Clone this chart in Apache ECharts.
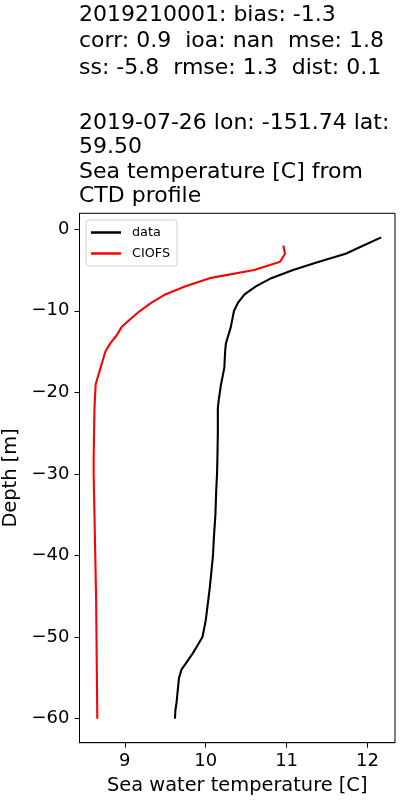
<!DOCTYPE html>
<html>
<head>
<meta charset="utf-8">
<script src="https://cdn.jsdelivr.net/npm/echarts@6/dist/echarts.min.js"></script>
<style>
html,body{margin:0;padding:0;background:#fff;}
#chart{width:400px;height:800px;}
</style>
</head>
<body>
<div id="chart"></div>
<script>
// Observed CTD profile ("data"): depth [m] and temperature [C]
const dataDepth = [-1,-2,-3,-4,-5,-6,-7,-8,-9,-10,-11,-12,-13,-14,-15,-16,-17,-18,-19,-20,-21,-22,-25,-28,-30,-32,-35,-38,-40,-42,-44,-46,-48,-50,-51,-52,-53,-54,-55,-56,-57,-58,-59,-60];
const dataTemp  = [12.17,11.95,11.73,11.40,11.08,10.81,10.62,10.48,10.40,10.35,10.33,10.31,10.28,10.25,10.24,10.235,10.23,10.21,10.19,10.175,10.16,10.15,10.15,10.145,10.14,10.13,10.12,10.10,10.09,10.07,10.05,10.025,10.00,9.96,9.90,9.84,9.77,9.70,9.67,9.66,9.65,9.64,9.625,9.62];
// Model profile ("CIOFS")
const modelDepth = [-2,-3,-4,-5,-6,-7,-8,-9,-10,-11,-12,-13,-14,-15,-16,-17,-18,-19,-20,-22,-25,-28,-30,-35,-40,-45,-50,-55,-60];
const modelTemp  = [10.96,10.98,10.92,10.60,10.05,9.75,9.50,9.33,9.19,9.07,8.96,8.90,8.82,8.76,8.73,8.70,8.67,8.64,8.635,8.625,8.62,8.615,8.615,8.625,8.635,8.645,8.65,8.655,8.66];
const xTicks = [9,10,11,12];
const yTicks = [0,-10,-20,-30,-40,-50,-60];
const titleLines = [
  "2019210001: bias: -1.3",
  "corr: 0.9  ioa: nan  mse: 1.8",
  "ss: -5.8  rmse: 1.3  dist: 0.1",
  "2019-07-26 lon: -151.74 lat:",
  "59.50",
  "Sea temperature [C] from",
  "CTD profile"
];
const titleBaselines = [21.7, 48.3, 75, 130, 154.3, 179, 203.3];

const FONT = "DejaVu Sans";
const TITLE_SIZE = 22;
const chart = echarts.init(document.getElementById('chart'), null, {renderer:'canvas'});
const fmt = v => String(v).replace('-', '\u2212');

chart.setOption({
  animation: false,
  backgroundColor: '#fff',
  textStyle: {fontFamily: FONT},
  graphic: titleLines.map((t, i) => ({
    type: 'text', left: 79, top: titleBaselines[i] - 0.797 * TITLE_SIZE,
    style: {text: t, font: TITLE_SIZE + 'px "DejaVu Sans"', fill: '#000'}
  })),
  legend: {
    orient: 'vertical', left: 86, top: 220,
    padding: [6, 7, 6, 5],
    itemWidth: 30, itemHeight: 2.5, itemGap: 8,
    icon: 'rect',
    borderColor: '#d0d0d0', borderWidth: 1, borderRadius: 3,
    backgroundColor: 'rgba(255,255,255,0.8)',
    textStyle: {fontFamily: FONT, fontSize: 12.8, color: '#000', padding: [0,0,0,6]},
    data: ['data', 'CIOFS']
  },
  grid: {left: 79.5, top: 213.3, right: 5, bottom: 57.3, show: true, borderColor: '#000', borderWidth: 1,
         containLabel: false, outerBoundsMode: 'none'},
  xAxis: {
    type: 'value', min: 8.44, max: 12.34,
    name: 'Sea water temperature [C]', nameLocation: 'middle', nameGap: 34,
    nameTextStyle: {fontFamily: FONT, fontSize: 19.4, color: '#000'},
    axisLine: {show: true, onZero: false, lineStyle: {color: '#000', width: 1}},
    axisTick: {show: true, length: 5, lineStyle: {color: '#000'}, customValues: xTicks},
    axisLabel: {fontFamily: FONT, fontSize: 18, color: '#000', margin: 10, customValues: xTicks, formatter: fmt},
    splitLine: {show: false}
  },
  yAxis: {
    type: 'value', min: -62.95, max: 1.95,
    name: 'Depth [m]', nameLocation: 'middle', nameGap: 58, nameRotate: 90,
    nameTextStyle: {fontFamily: FONT, fontSize: 19.4, color: '#000'},
    axisLine: {show: true, onZero: false, lineStyle: {color: '#000', width: 1}},
    axisTick: {show: true, length: 5, lineStyle: {color: '#000'}, customValues: yTicks},
    axisLabel: {fontFamily: FONT, fontSize: 18, color: '#000', margin: 10, customValues: yTicks, formatter: fmt},
    splitLine: {show: false}
  },
  series: [
    {name: 'data', type: 'line', showSymbol: false, symbol: 'none',
     lineStyle: {color: '#000', width: 2.1}, itemStyle: {color: '#000'},
     data: dataDepth.map((d, i) => [dataTemp[i], d])},
    {name: 'CIOFS', type: 'line', showSymbol: false, symbol: 'none',
     lineStyle: {color: '#ff0000', width: 2.1}, itemStyle: {color: '#ff0000'},
     data: modelDepth.map((d, i) => [modelTemp[i], d])}
  ]
});
</script>
</body>
</html>
